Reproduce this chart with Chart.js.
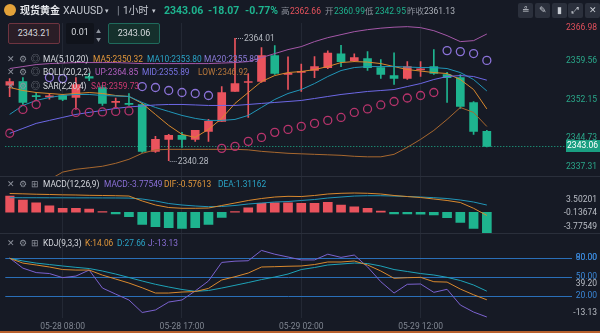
<!DOCTYPE html>
<html>
<head>
<meta charset="UTF-8" />
<title>现货黄金 XAUUSD 1小时</title>
<script src="https://cdn.jsdelivr.net/npm/chart.js"></script>
<style>
  html, body { margin: 0; padding: 0; background: #161a25; }
  body { width: 600px; height: 333px; position: relative; overflow: hidden;
         font-family: Roboto, "Noto Sans", "Noto Sans CJK SC", sans-serif; color: #c9cdd4; }
  #kline { position: absolute; left: 0; top: 0; }
  .t { position: absolute; white-space: nowrap; line-height: 10px; }
  .h { top: 5px; font-size: 10.5px; line-height: 12px; }
  .s { top: 6px; font-size: 8.5px; line-height: 10px; }
  .b { font-weight: bold; }
  .up { color: #e9535d; } .dn { color: #1eb48f; } .mute { color: #8d929c; }
  .box { position: absolute; top: 23px; height: 21px; box-sizing: border-box; border-radius: 2px;
         font-size: 9px; line-height: 19px; text-align: center; color: #d6d9de; }
  .tool { position: absolute; top: 3px; width: 15px; height: 15px; background: #2b303c; border-radius: 2px;
          color: #c9cdd4; font-size: 9px; text-align: center; line-height: 15px; }
  .leg { font-size: 8.4px; }
  .ico { color: #8d929c; font-size: 9px; }
  .coin { position: absolute; left: 4px; top: 4px; width: 12px; height: 12px; border-radius: 50%;
          background: #e3a23a; }
</style>
</head>
<body>
<canvas id="kline" width="600" height="333"></canvas>

<!-- symbol header -->
<div class="coin"></div>
<span class="t h b" style="left:20px;color:#e6e8ec;font-size:10px">现货黄金</span>
<span class="t h" style="left:63px;color:#c3c7cf">XAUUSD</span>
<span class="t h" style="left:105px;color:#c3c7cf;font-size:7px">▾</span>
<span class="t h mute" style="left:117px">|</span>
<span class="t h" style="left:123px;color:#c3c7cf;font-size:10px">1小时</span>
<span class="t h" style="left:152px;color:#c3c7cf;font-size:7px">▾</span>
<span class="t h b dn" id="last" style="left:164px"></span>
<span class="t h b dn" id="chg" style="left:208px"></span>
<span class="t h b dn" id="pct" style="left:245px"></span>
<span class="t s mute" style="left:281px">高</span><span class="t s up" id="dHigh" style="left:290px"></span>
<span class="t s mute" style="left:325px">开</span><span class="t s dn" id="dOpen" style="left:334px"></span>
<span class="t s mute" style="left:365px">低</span><span class="t s dn" id="dLow" style="left:375px"></span>
<span class="t s mute" style="left:407px">昨收</span><span class="t s" id="dPrev" style="left:424px;color:#aeb3bb"></span>
<div class="tool" style="left:518px">≗</div>
<div class="tool" style="left:535px">✎</div>
<div class="tool" style="left:552px">▮</div>
<div class="tool" style="left:568px">⤢</div>
<div class="tool" style="left:585px">✕</div>

<!-- order boxes -->
<div class="box" style="left:8px;width:52px;border:1px solid #6e3440;background:#2a1d26">2343.21</div>
<div class="box" style="left:66px;width:28px;background:#10131b;border:none">0.01</div>
<span class="t mute" style="left:96px;top:27px;font-size:5px;line-height:8px">▲<br>▼</span>
<div class="box" style="left:108px;width:52px;border:1px solid #1f6a5c;background:#15302c">2343.06</div>

<!-- indicator legends -->
<span class="t ico" style="left:7px;top:54px">✕</span><span class="t ico" style="left:19px;top:54px">⚙</span><span class="t ico" style="left:31px;top:54px">◎</span>
<span class="t leg" style="left:43px;top:54px;color:#d4d7dd">MA(5,10,20)</span>
<span class="t leg" id="lgMa5" style="left:93px;top:54px;color:#e0963b"></span>
<span class="t leg" id="lgMa10" style="left:147px;top:54px;color:#2aa3c6"></span>
<span class="t leg" id="lgMa20" style="left:204px;top:54px;color:#8a7ad8"></span>

<span class="t ico" style="left:7px;top:67px">✕</span><span class="t ico" style="left:19px;top:67px">⚙</span><span class="t ico" style="left:31px;top:67px">◎</span>
<span class="t leg" style="left:43px;top:67px;color:#d4d7dd">BOLL(20,2,2)</span>
<span class="t leg" id="lgUp" style="left:95px;top:67px;color:#b25fc0"></span>
<span class="t leg" id="lgMid" style="left:142px;top:67px;color:#7872e2"></span>
<span class="t leg" id="lgLow" style="left:198px;top:67px;color:#b9783c"></span>

<span class="t ico" style="left:7px;top:81px">✕</span><span class="t ico" style="left:19px;top:81px">⚙</span><span class="t ico" style="left:31px;top:81px">◎</span>
<span class="t leg" style="left:43px;top:81px;color:#d4d7dd">SAR(2,20,4)</span>
<span class="t leg" id="lgSar" style="left:91px;top:81px;color:#cf3a72"></span>

<span class="t ico" style="left:7px;top:179px">✕</span><span class="t ico" style="left:19px;top:179px">⚙</span><span class="t ico" style="left:31px;top:179px">⊞</span>
<span class="t leg" style="left:43px;top:179px;color:#d4d7dd">MACD(12,26,9)</span>
<span class="t leg" id="lgMacd" style="left:104px;top:179px;color:#8a6fd6"></span>
<span class="t leg" id="lgDif" style="left:164px;top:179px;color:#e0963b"></span>
<span class="t leg" id="lgDea" style="left:218px;top:179px;color:#2aa3c6"></span>

<span class="t ico" style="left:7px;top:238px">✕</span><span class="t ico" style="left:19px;top:238px">⚙</span><span class="t ico" style="left:31px;top:238px">⊞</span>
<span class="t leg" style="left:43px;top:238px;color:#d4d7dd">KDJ(9,3,3)</span>
<span class="t leg" id="lgK" style="left:85px;top:238px;color:#e0963b"></span>
<span class="t leg" id="lgD" style="left:117px;top:238px;color:#2aa3c6"></span>
<span class="t leg" id="lgJ" style="left:148px;top:238px;color:#8a6fd6"></span>

<script>
// hourly bars, 05-28 03:00 .. 05-29 17:00 (market break at 05:00)
const times = ['05-28 03:00','05-28 04:00','05-28 06:00','05-28 07:00','05-28 08:00','05-28 09:00','05-28 10:00',
  '05-28 11:00','05-28 12:00','05-28 13:00','05-28 14:00','05-28 15:00','05-28 16:00','05-28 17:00','05-28 18:00',
  '05-28 19:00','05-28 20:00','05-28 21:00','05-28 22:00','05-28 23:00','05-29 00:00','05-29 01:00','05-29 02:00',
  '05-29 03:00','05-29 04:00','05-29 06:00','05-29 07:00','05-29 08:00','05-29 09:00','05-29 10:00','05-29 11:00',
  '05-29 12:00','05-29 13:00','05-29 14:00','05-29 15:00','05-29 16:00','05-29 17:00'];
const timeTicks = [4, 13, 22, 31];

const opens  = [2354.90,2355.63,2352.85,2352.65,2352.92,2352.54,2356.60,2354.47,2351.60,2351.35,2351.18,2342.09,2344.41,
  2345.19,2344.41,2345.96,2347.90,2353.70,2355.44,2355.63,2360.66,2357.00,2357.40,2357.76,2358.34,2360.99,2359.69,
  2360.08,2358.34,2356.79,2356.21,2357.90,2358.53,2356.99,2356.40,2351.57,2345.96];
const highs  = [2356.20,2356.40,2353.50,2353.30,2353.10,2356.40,2357.20,2354.90,2352.44,2353.30,2351.40,2345.00,2345.40,
  2345.77,2346.15,2348.28,2354.66,2364.01,2357.18,2362.21,2362.59,2360.40,2359.00,2360.47,2361.60,2362.66,2361.00,
  2361.43,2359.89,2361.20,2359.50,2359.50,2361.82,2357.40,2357.00,2351.76,2346.15];
const lows   = [2352.70,2351.20,2352.10,2352.20,2351.90,2350.22,2355.80,2351.00,2350.60,2351.00,2341.90,2341.90,2340.28,
  2342.87,2344.03,2344.03,2347.90,2353.70,2348.67,2355.44,2356.99,2354.10,2353.70,2356.40,2358.10,2358.53,2359.50,
  2357.76,2356.21,2355.05,2356.02,2356.60,2356.99,2351.57,2350.40,2345.38,2342.95];
const closes = [2355.60,2351.57,2352.70,2352.80,2352.15,2355.05,2356.30,2351.38,2351.80,2351.20,2342.09,2344.41,2345.19,
  2344.41,2346.15,2347.90,2353.50,2355.24,2355.63,2360.66,2357.18,2357.20,2357.60,2358.53,2361.13,2359.50,2360.27,
  2358.34,2356.99,2356.21,2358.53,2358.10,2357.18,2356.40,2350.80,2345.96,2343.06];

const ma5  = [2354.47,2353.89,2353.50,2353.31,2353.12,2353.31,2353.50,2353.31,2352.92,2352.73,2351.38,2349.25,2347.12,
  2345.38,2344.80,2346.35,2348.48,2351.38,2353.50,2355.63,2356.79,2357.37,2357.57,2357.95,2358.53,2359.31,2359.50,
  2359.40,2359.11,2358.53,2357.95,2357.66,2357.37,2357.18,2356.02,2354.08,2350.32];
const ma10 = [2349.25,2350.99,2351.96,2352.54,2352.92,2353.12,2353.12,2352.92,2352.83,2352.73,2351.57,2350.60,2349.83,
  2349.06,2348.48,2348.09,2348.09,2348.28,2349.06,2350.60,2352.15,2353.31,2354.08,2355.24,2356.60,2357.76,2358.34,
  2358.53,2358.53,2358.53,2358.44,2358.34,2358.34,2358.15,2357.37,2356.02,2353.80];
const ma20 = [2345.57,2346.54,2347.51,2348.09,2348.67,2349.25,2349.64,2350.02,2350.41,2350.70,2350.89,2351.09,2351.18,
  2351.18,2351.09,2350.99,2350.99,2350.99,2351.18,2351.38,2351.57,2351.76,2351.96,2352.34,2352.73,2353.12,2353.41,
  2353.70,2353.89,2354.08,2354.66,2355.24,2356.02,2356.60,2356.79,2356.60,2355.89];
const bollUp  = [2358.15,2358.53,2358.92,2359.11,2359.21,2359.31,2359.31,2359.31,2359.31,2359.21,2359.11,2359.11,2359.11,
  2359.11,2359.11,2359.11,2359.21,2359.31,2359.50,2360.27,2361.05,2361.82,2362.40,2363.37,2364.14,2364.72,2365.30,
  2365.69,2365.98,2366.17,2366.27,2366.08,2365.49,2364.53,2363.37,2363.56,2364.85];
const bollLow = [null,null,null,2336.60,2338.07,2338.61,2338.90,2339.20,2339.77,2340.55,2341.71,2342.38,2342.48,
  2342.48,2342.48,2342.48,2342.48,2342.48,2342.38,2342.09,2341.90,2341.71,2341.61,2341.51,2341.42,2341.32,2341.13,
  2341.03,2341.03,2341.51,2342.87,2344.41,2346.15,2348.28,2350.60,2349.64,2346.92];
const sar = [2345.60,2350.22,2351.18,2356.40,2356.20,2349.64,2349.64,2349.73,2349.83,2349.93,2354.66,2354.47,2353.89,
  2353.50,2353.31,2352.92,2342.67,2343.06,2344.03,2344.80,2345.77,2346.35,2346.93,2347.51,2348.09,2348.67,2349.64,
  2350.31,2351.09,2351.76,2352.44,2352.92,2353.50,2361.63,2361.43,2361.05,2359.73];

const macdHist = [2.95,2.22,1.73,1.18,0.71,0.71,0.58,0.10,-0.30,-0.82,-2.20,-2.64,-2.80,-2.93,-2.82,-2.20,-0.93,0.10,
  0.82,1.62,1.73,1.73,1.62,1.62,1.80,1.31,1.00,0.71,0.22,-0.30,-0.30,-0.35,-0.50,-1.00,-1.83,-2.93,-3.77549];
const dif = [3.41,3.35,3.28,3.23,3.17,3.14,3.08,3.05,3.01,2.95,2.05,1.32,0.86,0.72,0.72,0.77,1.23,1.68,2.14,2.50,2.77,
  2.90,2.86,3.05,3.32,3.45,3.50201,3.45,3.32,3.05,2.86,2.68,2.41,2.14,1.77,0.72,-0.57613];
const dea = [2.65,2.64,2.64,2.63,2.63,2.62,2.62,2.61,2.60,2.58,2.41,2.05,1.59,1.32,1.14,1.01,1.05,1.23,1.50,1.68,1.86,
  1.95,2.14,2.32,2.59,2.77,2.95,3.01,3.01,2.95,2.86,2.77,2.65,2.50,2.23,1.86,1.31162];

const kVals = [79.5,72.0,69.0,65.8,61.8,61.0,61.0,53.0,46.8,40.5,33.0,24.7,24.7,26.3,27.0,32.0,45.3,50.5,56.3,65.8,66.3,
  67.0,67.4,69.7,73.7,73.7,75.3,69.0,59.5,48.0,48.9,49.5,42.6,42.0,31.0,22.0,14.06];
const dVals = [79.5,75.3,72.0,69.7,67.4,65.3,63.4,59.5,54.7,49.2,43.7,38.5,34.2,30.3,27.4,28.7,32.6,36.9,41.3,46.0,50.0,
  54.7,61.8,65.0,69.0,70.5,72.1,71.3,67.4,61.8,58.7,55.5,53.2,49.5,44.5,37.4,27.66];
const jVals = [80.0,64.0,57.0,55.5,49.0,51.5,61.0,32.6,23.0,13.7,-6.0,-2.0,10.5,13.7,28.0,43.7,73.0,75.0,75.7,92.0,86.0,
  81.6,77.0,77.0,86.0,81.0,84.7,66.0,42.6,24.7,38.5,39.0,25.8,30.6,5.8,-5.3,-13.13];

// right-hand scale labels
const priceTicks = [2366.98, 2359.56, 2352.15, 2344.73, 2337.31];
const macdTicks = [3.50201, -0.13674, -3.77549];
const kdjLevels = [80, 50, 20];
const kdjTicks = [90.00, 80.00, 50.00, 39.20, 20.00, -13.13];

// session summary
const dayHigh = 2362.66, dayOpen = 2360.99, dayLow = 2342.95, prevClose = 2361.13;

const RED = '#e9535d', GREEN = '#1eb48f';
const FONT = 'Roboto, "Noto Sans", sans-serif';
const last = closes[closes.length - 1];
const xy = arr => arr.map((v, i) => ({ x: i, y: v }));
const lastOf = arr => arr[arr.length - 1];

// header + legends
const set = (id, txt) => { document.getElementById(id).textContent = txt; };
set('last', last.toFixed(2));
set('chg', (last - prevClose).toFixed(2));
set('pct', ((last - prevClose) / prevClose * 100).toFixed(2) + '%');
set('dHigh', dayHigh.toFixed(2)); set('dOpen', dayOpen.toFixed(2));
set('dLow', dayLow.toFixed(2)); set('dPrev', prevClose.toFixed(2));
set('lgMa5', 'MA5:' + lastOf(ma5).toFixed(2));
set('lgMa10', 'MA10:' + lastOf(ma10).toFixed(2));
set('lgMa20', 'MA20:' + lastOf(ma20).toFixed(2));
set('lgUp', 'UP:' + lastOf(bollUp).toFixed(2));
set('lgMid', 'MID:' + lastOf(ma20).toFixed(2));
set('lgLow', 'LOW:' + lastOf(bollLow).toFixed(2));
set('lgSar', 'SAR:' + lastOf(sar).toFixed(2));
set('lgMacd', 'MACD:' + lastOf(macdHist).toFixed(5));
set('lgDif', 'DIF:' + lastOf(dif).toFixed(5));
set('lgDea', 'DEA:' + lastOf(dea).toFixed(5));
set('lgK', 'K:' + lastOf(kVals).toFixed(2));
set('lgD', 'D:' + lastOf(dVals).toFixed(2));
set('lgJ', 'J:' + lastOf(jVals).toFixed(2));

const candleColors = closes.map((c, i) => c >= opens[i] ? RED : GREEN);
const sarColors = sar.map((s, i) => s > closes[i] ? '#8b72d8' : '#b8346c');

// pane separators, level lines, price line, labels on the right
const panes = {
  id: 'panes',
  beforeDatasetsDraw(chart) {
    const { ctx, chartArea } = chart;
    const y = chart.scales.y, m = chart.scales.macd, k = chart.scales.kdj;
    ctx.save();
    ctx.lineWidth = 1;
    ctx.strokeStyle = '#2a2f3b';
    [y.bottom, m.bottom].forEach(py => {
      ctx.beginPath(); ctx.moveTo(0, Math.round(py) + 0.5); ctx.lineTo(600, Math.round(py) + 0.5); ctx.stroke();
    });
    ctx.strokeStyle = '#2a6fb8';
    kdjLevels.forEach(v => {
      const py = Math.round(k.getPixelForValue(v)) + 0.5;
      ctx.beginPath(); ctx.moveTo(chartArea.left, py); ctx.lineTo(572, py); ctx.stroke();
    });
    ctx.strokeStyle = GREEN;
    ctx.setLineDash([1, 2]);
    const lp = Math.round(y.getPixelForValue(last)) + 0.5;
    ctx.beginPath(); ctx.moveTo(chartArea.left, lp); ctx.lineTo(567, lp); ctx.stroke();
    ctx.restore();
  },
  afterDatasetsDraw(chart) {
    const { ctx } = chart;
    const x = chart.scales.x, y = chart.scales.y;
    ctx.save();
    ctx.font = '8.5px ' + FONT;
    ctx.textBaseline = 'middle';

    // extreme marks
    const hiIdx = highs.indexOf(Math.max(...highs)), loIdx = lows.indexOf(Math.min(...lows));
    [[hiIdx, highs[hiIdx]], [loIdx, lows[loIdx]]].forEach(([i, v]) => {
      const px = x.getPixelForValue(i), py = Math.round(y.getPixelForValue(v)) + 0.5;
      ctx.strokeStyle = '#9ea3ad'; ctx.setLineDash([1, 1]);
      ctx.beginPath(); ctx.moveTo(px + 1, py); ctx.lineTo(px + 8, py); ctx.stroke();
      ctx.setLineDash([]);
      ctx.fillStyle = '#b4b8c0'; ctx.textAlign = 'left';
      ctx.fillText(v.toFixed(2), px + 9, py);
    });

    ctx.textAlign = 'right';
    const put = (scale, list, fmt, color, padTop, padBot) => {
      list.forEach((v, n) => {
        let py = scale.getPixelForValue(v);
        py = Math.min(Math.max(py, scale.top + padTop), scale.bottom - padBot);
        ctx.fillStyle = typeof color === 'function' ? color(v, n) : color;
        ctx.fillText(fmt(v), 597, py);
      });
    };
    put(y, priceTicks, v => v.toFixed(2), v => v > prevClose ? '#e0505c' : '#2aa88a', 5, 9);
    put(chart.scales.macd, macdTicks, v => v.toFixed(5), '#b9bdc5', 24, 6);
    put(chart.scales.kdj, kdjTicks, v => v.toFixed(2), v => kdjLevels.includes(v) || v > 80 ? '#3a86d6' : '#b9bdc5', 25, 5);

    // last price tag
    const tp = y.getPixelForValue(last);
    ctx.fillStyle = '#1a9f82';
    ctx.fillRect(566, Math.round(tp) - 6, 34, 12);
    ctx.fillStyle = '#ffffff';
    ctx.fillText(last.toFixed(2), 598, tp);
    ctx.restore();
  }
};

new Chart(document.getElementById('kline'), {
  type: 'line',
  data: {
    datasets: [
      { type: 'bar', label: 'wick', data: lows.map((l, i) => ({ x: i, y: [l, highs[i]] })), yAxisID: 'y',
        backgroundColor: candleColors, barThickness: 1, grouped: false, order: 3 },
      { type: 'bar', label: 'body', data: opens.map((o, i) => ({ x: i, y: [o, closes[i]] })), yAxisID: 'y',
        backgroundColor: candleColors, barThickness: 8, minBarLength: 1, grouped: false, order: 2 },
      { label: 'BOLL LOW', data: xy(bollLow), yAxisID: 'y', borderColor: '#a8682f', order: 1 },
      { label: 'BOLL UP', data: xy(bollUp), yAxisID: 'y', borderColor: '#a558a8', order: 1 },
      { label: 'MA20', data: xy(ma20), yAxisID: 'y', borderColor: '#6d68e6', order: 1 },
      { label: 'MA10', data: xy(ma10), yAxisID: 'y', borderColor: '#2196b8', order: 1 },
      { label: 'MA5', data: xy(ma5), yAxisID: 'y', borderColor: '#d9892e', order: 1 },
      { label: 'SAR', data: xy(sar), yAxisID: 'y', showLine: false, pointRadius: 4, pointBorderWidth: 1.3,
        pointBackgroundColor: 'rgba(0,0,0,0)', pointBorderColor: sarColors, order: 0 },
      { type: 'bar', label: 'MACD', data: xy(macdHist), yAxisID: 'macd', barThickness: 9, grouped: false,
        backgroundColor: macdHist.map(v => v >= 0 ? RED : GREEN), order: 2 },
      { label: 'DIF', data: xy(dif), yAxisID: 'macd', borderColor: '#d9892e', order: 1 },
      { label: 'DEA', data: xy(dea), yAxisID: 'macd', borderColor: '#2196b8', order: 1 },
      { label: 'K', data: xy(kVals), yAxisID: 'kdj', borderColor: '#d9892e', order: 1 },
      { label: 'D', data: xy(dVals), yAxisID: 'kdj', borderColor: '#1ea3b8', order: 1 },
      { label: 'J', data: xy(jVals), yAxisID: 'kdj', borderColor: '#7b62cf', order: 1 }
    ]
  },
  options: {
    responsive: false,
    devicePixelRatio: 1,
    animation: false,
    layout: { padding: { top: 23, right: 106, left: 0, bottom: 0 } },
    elements: { line: { borderWidth: 1, tension: 0 }, point: { radius: 0 } },
    plugins: { legend: { display: false }, tooltip: { enabled: false } },
    scales: {
      x: {
        type: 'linear', min: -0.328, max: 36.54, offset: false,
        afterBuildTicks: s => { s.ticks = timeTicks.map(v => ({ value: v })); },
        afterFit: s => { s.height = 15; },
        ticks: { callback: v => times[v], autoSkip: false, maxRotation: 0, color: '#7f8590',
                 font: { size: 8.5, family: FONT }, padding: 4 },
        grid: { color: '#232834', drawTicks: false, offset: false },
        border: { display: false }
      },
      y:    { position: 'right', stack: 'panes', stackWeight: 153, display: false,
              min: priceTicks[priceTicks.length - 1], max: priceTicks[0] },
      macd: { position: 'right', stack: 'panes', stackWeight: 57, display: false, min: -3.77549, max: 6.596 },
      kdj:  { position: 'right', stack: 'panes', stackWeight: 85, display: false, min: -14.7, max: 119.5 }
    }
  },
  plugins: [panes]
});
</script>
<div style="position:absolute;left:0;top:331px;width:600px;height:2px;background:#b8602c"></div>
</body>
</html>
